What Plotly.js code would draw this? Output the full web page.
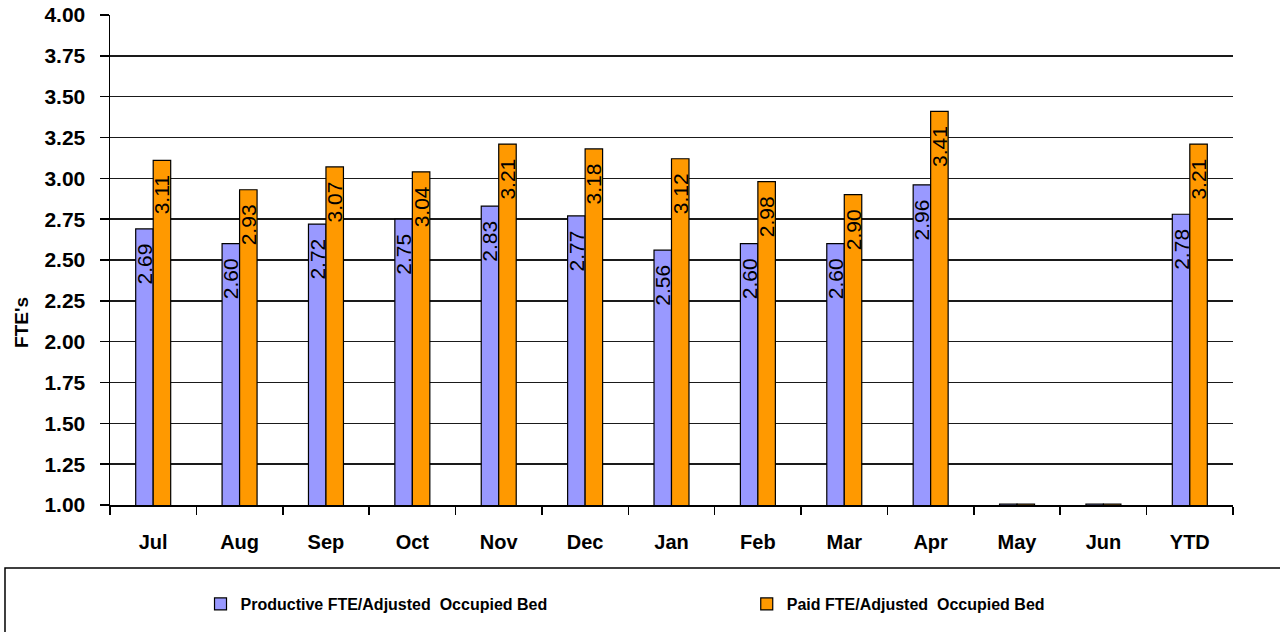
<!DOCTYPE html>
<html>
<head>
<meta charset="utf-8">
<script src="https://cdn.plot.ly/plotly-3.0.1.min.js"></script>
<style>html,body{margin:0;padding:0;background:#fff;}#chart{width:1280px;height:632px;}</style>
</head>
<body>
<div id="chart"></div>
<script>
const categories = ["Jul","Aug","Sep","Oct","Nov","Dec","Jan","Feb","Mar","Apr","May","Jun","YTD"];
const productive = [2.69,2.60,2.72,2.75,2.83,2.77,2.56,2.60,2.60,2.96,1.005,1.005,2.78];
const paid = [3.11,2.93,3.07,3.04,3.21,3.18,3.12,2.98,2.90,3.41,1.005,1.005,3.21];
const seriesNames = ["Productive FTE/Adjusted  Occupied Bed","Paid FTE/Adjusted  Occupied Bed"];
const yTitle = "FTE's";

const lbl = v => v > 1.05 ? v.toFixed(2) + "\u00a0\u00a0" : "";
const font = "Liberation Sans, Arial, sans-serif";

function barTrace(name, vals, color, leg){
  return {
    type: "bar", name: name, x: categories, y: vals, legend: leg,
    text: vals.map(lbl), textposition: "inside", insidetextanchor: "end",
    textangle: -90, constraintext: "none", cliponaxis: false,
    textfont: {family: font, size: 21, color: "#000"},
    marker: {color: color, line: {color: "#000", width: 1.2}},
    hoverinfo: "x+y"
  };
}

const data = [
  barTrace(seriesNames[0], productive, "#9999FF", "legend"),
  barTrace(seriesNames[1], paid, "#FF9900", "legend2")
];

const legFont = {family: font, size: 16, color: "#000", weight: "bold"};
const legCommon = {orientation: "h", xanchor: "left", yanchor: "middle", y: -0.202,
  font: legFont, bgcolor: "rgba(0,0,0,0)", borderwidth: 0, itemwidth: 30};

const layout = {
  width: 1280, height: 632,
  margin: {l: 110, r: 47, t: 15, b: 127, autoexpand: false},
  paper_bgcolor: "#fff", plot_bgcolor: "#fff",
  barmode: "group", bargap: 0.595, bargroupgap: 0,
  font: {family: font, color: "#000"},
  showlegend: true,
  legend: Object.assign({}, legCommon, {x: 0.0806}),
  legend2: Object.assign({}, legCommon, {x: 0.567}),
  xaxis: {
    type: "category", showline: true, linecolor: "#000", linewidth: 1.5,
    ticks: "outside", tickson: "boundaries", ticklen: 8, tickcolor: "#000", tickwidth: 1.5,
    ticklabelstandoff: 18,
    tickfont: {family: font, size: 20, color: "#000", weight: "bold"},
    showgrid: false, zeroline: false
  },
  yaxis: {
    range: [1, 4], dtick: 0.25, tick0: 1, tickformat: ".2f",
    showline: true, linecolor: "#000", linewidth: 1.5,
    ticks: "outside", ticklen: 9, tickcolor: "#000", tickwidth: 1.5,
    ticklabelstandoff: 10,
    showgrid: true, gridcolor: "#1a1a1a", gridwidth: 1.5, zeroline: false,
    tickfont: {family: font, size: 21, color: "#000", weight: "bold"}
  },
  annotations: [{
    text: yTitle, textangle: -90, showarrow: false,
    xref: "paper", yref: "paper", x: (21 - 110) / 1123, y: (505 - 323) / 490,
    xanchor: "center", yanchor: "middle",
    font: {family: font, size: 19, color: "#000", weight: "bold"}
  }],
  shapes: [{
    type: "rect", xref: "paper", yref: "paper",
    x0: -0.0935, x1: 1.2, y0: -0.1286, y1: -0.4,
    line: {color: "#000", width: 1.5}, fillcolor: "rgba(0,0,0,0)", layer: "below"
  }]
};

Plotly.newPlot("chart", data, layout, {displayModeBar: false, staticPlot: true});
</script>
</body>
</html>
